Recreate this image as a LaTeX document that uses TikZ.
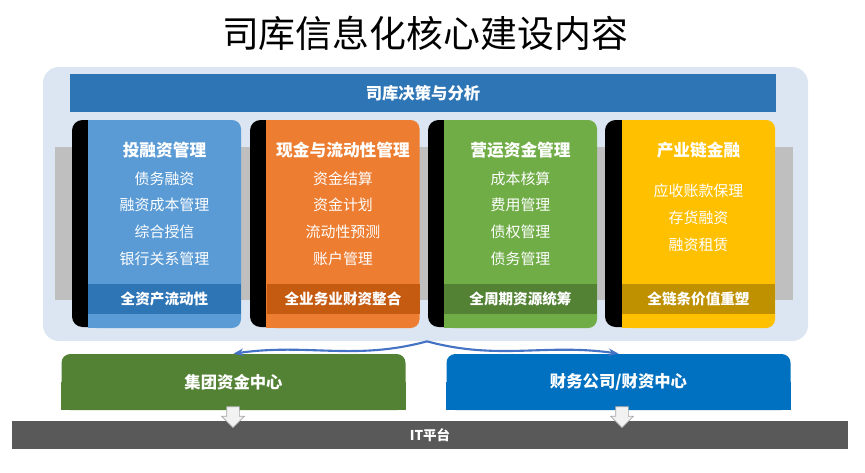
\documentclass[tikz,border=0pt]{standalone}
\usepackage{fontspec}
\setmainfont{Noto Sans CJK SC}
\usetikzlibrary{arrows.meta,shapes.arrows,backgrounds}
\definecolor{bgblue}{HTML}{DCE6F2}
\definecolor{bannerblue}{HTML}{2E75B6}
\definecolor{bandgray}{HTML}{BFBFBF}
\definecolor{colblue}{HTML}{5B9BD5}
\definecolor{colbluedk}{HTML}{2E75B6}
\definecolor{colorange}{HTML}{ED7D31}
\definecolor{colorangedk}{HTML}{C55A11}
\definecolor{colgreen}{HTML}{70AD47}
\definecolor{colgreendk}{HTML}{548235}
\definecolor{colyellow}{HTML}{FFC000}
\definecolor{colyellowdk}{HTML}{BF9000}
\definecolor{hubblue}{HTML}{0070C0}
\definecolor{platgray}{HTML}{595959}
\definecolor{flowblue}{HTML}{4472C4}

\begin{document}
\begin{tikzpicture}[
  roll/.style={fill=black, rounded corners=6pt, minimum width=0.56cm, minimum height=4.14cm, inner sep=0pt},
  panel/.style={rounded corners=5pt, minimum width=3.06cm, minimum height=4.16cm, inner sep=0pt},
  band/.style={minimum width=3.06cm, minimum height=0.6cm, inner sep=0pt, text=white, font=\bfseries\fontsize{8.3}{10}\selectfont},
  ttl/.style={text=white, font=\bfseries\fontsize{9.5}{11}\selectfont},
  entry/.style={text=white, font=\fontsize{8.5}{10}\selectfont},
  hub/.style={rounded corners=5pt, minimum width=6.88cm, minimum height=1.12cm, text=white, font=\bfseries\fontsize{9.3}{11}\selectfont},
  down/.style={single arrow, shape border rotate=270, draw=black!35, fill=black!5, minimum height=0.42cm, inner sep=0.12cm, single arrow head extend=0.1cm},
  flow/.style={draw=flowblue, line width=1.2pt, -{Stealth[length=2mm]}}
]
\useasboundingbox (0,0) rectangle (17.3,-9.44);

\node[font=\fontsize{21}{24}\selectfont] (title) at (8.5,-0.66) {司库信息化核心建设内容};

\node[fill=bgblue, rounded corners=9pt, minimum width=15.3cm, minimum height=5.48cm] (bg) at (8.51,-4.08) {};
\node[fill=bannerblue, minimum width=14.12cm, minimum height=0.76cm, text=white, font=\bfseries\fontsize{9.3}{11}\selectfont] (top) at (8.46,-1.86) {司库决策与分析};
\node[fill=bandgray, minimum width=14.76cm, minimum height=3.06cm] (strip) at (8.48,-4.47) {};

% column 1
\node[roll] (c1roll) at (1.72,-4.47) {};
\node[panel, fill=colblue] (c1) at (3.29,-4.48) {};
\fill[colblue] (c1.north west) rectangle (c1.south);
\node[band, fill=colbluedk] (c1band) at (3.29,-5.98) {全资产流动性};
\node[ttl] (c1t) at (3.29,-3.0) {投融资管理};
\node[entry] (c1a) at (3.29,-3.58) {债务融资};
\node[entry] (c1b) at (3.29,-4.10) {融资成本管理};
\node[entry] (c1c) at (3.29,-4.64) {综合授信};
\node[entry] (c1d) at (3.29,-5.18) {银行关系管理};

% column 2
\node[roll] (c2roll) at (5.28,-4.47) {};
\node[panel, fill=colorange] (c2) at (6.86,-4.48) {};
\fill[colorange] (c2.north west) rectangle (c2.south);
\node[band, fill=colorangedk] (c2band) at (6.86,-5.98) {全业务业财资整合};
\node[ttl] (c2t) at (6.86,-3.0) {现金与流动性管理};
\node[entry] (c2a) at (6.86,-3.58) {资金结算};
\node[entry] (c2b) at (6.86,-4.10) {资金计划};
\node[entry] (c2c) at (6.86,-4.64) {流动性预测};
\node[entry] (c2d) at (6.86,-5.18) {账户管理};

% column 3
\node[roll] (c3roll) at (8.84,-4.47) {};
\node[panel, fill=colgreen] (c3) at (10.41,-4.48) {};
\fill[colgreen] (c3.north west) rectangle (c3.south);
\node[band, fill=colgreendk] (c3band) at (10.41,-5.98) {全周期资源统筹};
\node[ttl] (c3t) at (10.41,-3.0) {营运资金管理};
\node[entry] (c3a) at (10.41,-3.58) {成本核算};
\node[entry] (c3b) at (10.41,-4.10) {费用管理};
\node[entry] (c3c) at (10.41,-4.64) {债权管理};
\node[entry] (c3d) at (10.41,-5.18) {债务管理};

% column 4
\node[roll] (c4roll) at (12.38,-4.47) {};
\node[panel, fill=colyellow] (c4) at (13.97,-4.48) {};
\fill[colyellow] (c4.north west) rectangle (c4.south);
\node[band, fill=colyellowdk] (c4band) at (13.97,-5.98) {全链条价值重塑};
\node[ttl] (c4t) at (13.97,-3.0) {产业链金融};
\node[entry] (c4a) at (13.97,-3.82) {应收账款保理};
\node[entry] (c4b) at (13.97,-4.36) {存货融资};
\node[entry] (c4c) at (13.97,-4.90) {融资租赁};

% centres and platform
\node[hub, fill=colgreendk] (group) at (4.67,-7.64) {集团资金中心};
\node[hub, fill=hubblue] (fin) at (12.37,-7.64) {财务公司/财资中心};
\begin{scope}[on background layer]
  \fill[colgreendk] (group.west) rectangle (group.south east);
  \fill[hubblue] (fin.west) rectangle (fin.south east);
\end{scope}
\node[fill=platgray, minimum width=16.72cm, minimum height=0.56cm, text=white, font=\bfseries\fontsize{7.7}{9}\selectfont] (it) at (8.6,-8.7) {IT平台};

\node[down] (arrL) at (4.66,-8.28) {};
\node[down] (arrR) at (12.44,-8.28) {};

\coordinate (split) at ([xshift=0.03cm]bg.south);
\draw[flow] (split) to[out=195, in=8] (group.north);
\draw[flow] (split) to[out=-15, in=172] (fin.north);
\end{tikzpicture}
\end{document}
